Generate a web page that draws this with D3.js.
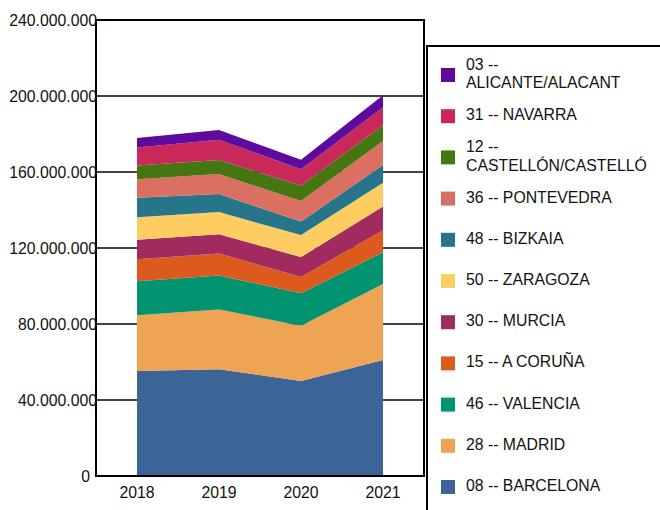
<!DOCTYPE html>
<html>
<head>
<meta charset="utf-8">
<script src="https://cdn.jsdelivr.net/npm/d3@7"></script>
<style>
  html, body { margin: 0; padding: 0; background: #fff; }
  svg { display: block; font-family: "Liberation Sans", Arial, sans-serif; }
</style>
</head>
<body>
<svg id="chart" width="660" height="510"></svg>
<script>
// ---- data ----
const years = ["2018", "2019", "2020", "2021"];
const yTicks = [0, 40000000, 80000000, 120000000, 160000000, 200000000, 240000000];

// series, bottom of the stack first
const seriesNames = [
  "08 -- BARCELONA", "28 -- MADRID", "46 -- VALENCIA", "15 -- A CORUÑA",
  "30 -- MURCIA", "50 -- ZARAGOZA", "48 -- BIZKAIA", "36 -- PONTEVEDRA",
  "12 -- CASTELLÓN/CASTELLÓ", "31 -- NAVARRA", "03 -- ALICANTE/ALACANT"
];
const seriesColors = [
  "#3b6597", "#eea453", "#029471", "#dd5a1f", "#a12a5e", "#fdcd62",
  "#27758a", "#db7062", "#467612", "#c9285a", "#5e0a9c"
];
const barcelona  = [55300000, 56200000, 50000000, 61100000];
const madrid     = [29300000, 31400000, 29100000, 40000000];
const valencia   = [17900000, 17900000, 17100000, 16700000];
const coruna     = [11600000, 11600000,  8600000, 11600000];
const murcia     = [10300000, 10200000, 10400000, 12400000];
const zaragoza   = [11800000, 11600000, 11600000, 12600000];
const bizkaia    = [10300000,  9500000,  7200000,  9300000];
const pontevedra = [ 9700000, 10500000, 10700000, 12600000];
const castellon  = [ 7200000,  7400000,  8200000,  8300000];
const navarra    = [ 9500000, 10700000,  8600000,  9500000];
const alicante   = [ 5000000,  5100000,  4900000,  6300000];
const seriesValues = [barcelona, madrid, valencia, coruna, murcia, zaragoza,
  bizkaia, pontevedra, castellon, navarra, alicante];

// ---- build table ----
const table = years.map((yr, i) => {
  const row = { year: yr };
  seriesNames.forEach((n, s) => { row[n] = seriesValues[s][i]; });
  return row;
});

const svg = d3.select("#chart");
const plotL = 96, plotR = 424, plotT = 20, plotB = 476;

const x = d3.scalePoint().domain(years).range([plotL, plotR]).padding(0.5);
const y = d3.scaleLinear().domain([0, 240000000]).range([plotB, plotT]);

const locale = d3.formatLocale({ decimal: ",", thousands: ".", grouping: [3], currency: ["", "€"] });
const fmt = locale.format(",d");

// gridlines (behind areas)
svg.append("g").selectAll("line").data(yTicks.filter(d => d > 0 && d < 240000000)).join("line")
  .attr("x1", plotL).attr("x2", plotR)
  .attr("y1", d => y(d)).attr("y2", d => y(d))
  .attr("stroke", "#000").attr("stroke-width", 1.6);

// stacked areas
const stack = d3.stack().keys(seriesNames);
const layers = stack(table);
const area = d3.area()
  .x(d => x(d.data.year))
  .y0(d => y(d[0]))
  .y1(d => y(d[1]));
svg.append("g").selectAll("path").data(layers).join("path")
  .attr("d", area)
  .attr("fill", (d, i) => seriesColors[i]);

// frame
svg.append("rect")
  .attr("x", plotL).attr("y", plotT)
  .attr("width", plotR - plotL).attr("height", plotB - plotT)
  .attr("fill", "none").attr("stroke", "#000").attr("stroke-width", 2);

// y tick labels
svg.append("g").selectAll("text").data(yTicks).join("text")
  .attr("x", d => d === 0 ? plotL - 6 : plotL + 1)
  .attr("y", d => y(d))
  .attr("dy", "0.36em")
  .attr("text-anchor", "end")
  .attr("font-size", "15.8px")
  .attr("fill", "#111")
  .text(d => fmt(d));

// x tick labels
svg.append("g").selectAll("text").data(years).join("text")
  .attr("x", d => x(d))
  .attr("y", 497.5)
  .attr("text-anchor", "middle")
  .attr("font-size", "15.8px")
  .attr("fill", "#111")
  .text(d => d);

// legend
const legendX = 427, legendY = 46;
svg.append("rect")
  .attr("x", legendX).attr("y", legendY)
  .attr("width", 300).attr("height", 600)
  .attr("fill", "#fff").attr("stroke", "#000").attr("stroke-width", 2);

const legendOrder = seriesNames.map((n, i) => ({ name: n, color: seriesColors[i] })).reverse();
const step = 41.2, firstCenter = 75;
const items = svg.append("g").selectAll("g").data(legendOrder).join("g")
  .attr("transform", (d, i) => `translate(0,${firstCenter + i * step})`);
items.append("rect")
  .attr("x", 441).attr("y", -7).attr("width", 14).attr("height", 14)
  .attr("fill", d => d.color);
items.each(function(d) {
  const g = d3.select(this);
  const parts = d.name.length > 18 ? [d.name.slice(0, d.name.indexOf("--") + 2), d.name.slice(d.name.indexOf("--") + 3)] : [d.name];
  const t = g.append("text").attr("x", 466).attr("font-size", "15.8px").attr("fill", "#111");
  if (parts.length === 1) {
    t.attr("y", 4).text(parts[0]);
  } else {
    t.append("tspan").attr("x", 466).attr("y", -5.5).text(parts[0]);
    t.append("tspan").attr("x", 466).attr("y", 13.3).text(parts[1]);
  }
});
</script>
</body>
</html>
